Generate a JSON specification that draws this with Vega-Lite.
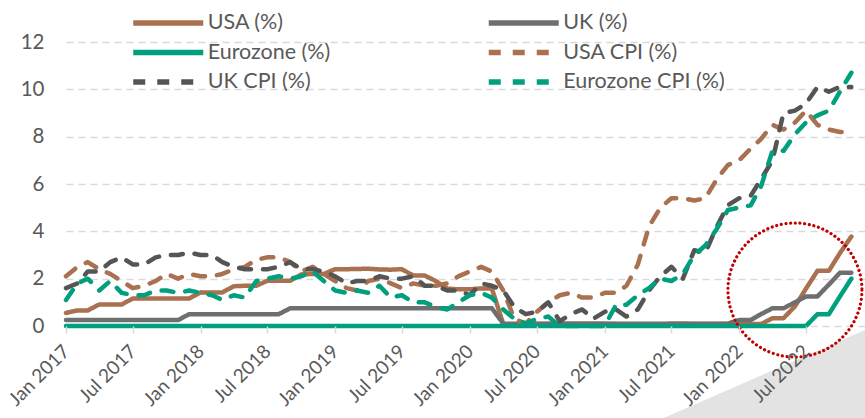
{
  "$schema": "https://vega.github.io/schema/vega-lite/v6.json",
  "width": 799,
  "height": 284,
  "autosize": {"type": "none"},
  "padding": {"left": 66, "top": 42, "right": 0, "bottom": 92},
  "background": "white",
  "config": {"view": {"stroke": null}, "font": "Lato"},
  "datasets": {
    "rates": [
      {"month":"2017-01","series":"USA (%)","value":0.55},{"month":"2017-02","series":"USA (%)","value":0.66},{"month":"2017-03","series":"USA (%)","value":0.66},{"month":"2017-04","series":"USA (%)","value":0.91},{"month":"2017-05","series":"USA (%)","value":0.91},{"month":"2017-06","series":"USA (%)","value":0.91},{"month":"2017-07","series":"USA (%)","value":1.16},{"month":"2017-08","series":"USA (%)","value":1.16},{"month":"2017-09","series":"USA (%)","value":1.16},{"month":"2017-10","series":"USA (%)","value":1.16},{"month":"2017-11","series":"USA (%)","value":1.16},{"month":"2017-12","series":"USA (%)","value":1.16},
      {"month":"2018-01","series":"USA (%)","value":1.42},{"month":"2018-02","series":"USA (%)","value":1.42},{"month":"2018-03","series":"USA (%)","value":1.42},{"month":"2018-04","series":"USA (%)","value":1.68},{"month":"2018-05","series":"USA (%)","value":1.70},{"month":"2018-06","series":"USA (%)","value":1.70},{"month":"2018-07","series":"USA (%)","value":1.91},{"month":"2018-08","series":"USA (%)","value":1.91},{"month":"2018-09","series":"USA (%)","value":1.91},{"month":"2018-10","series":"USA (%)","value":2.18},{"month":"2018-11","series":"USA (%)","value":2.20},{"month":"2018-12","series":"USA (%)","value":2.20},
      {"month":"2019-01","series":"USA (%)","value":2.40},{"month":"2019-02","series":"USA (%)","value":2.40},{"month":"2019-03","series":"USA (%)","value":2.41},{"month":"2019-04","series":"USA (%)","value":2.42},{"month":"2019-05","series":"USA (%)","value":2.39},{"month":"2019-06","series":"USA (%)","value":2.38},{"month":"2019-07","series":"USA (%)","value":2.40},{"month":"2019-08","series":"USA (%)","value":2.13},{"month":"2019-09","series":"USA (%)","value":2.13},{"month":"2019-10","series":"USA (%)","value":1.90},{"month":"2019-11","series":"USA (%)","value":1.58},{"month":"2019-12","series":"USA (%)","value":1.55},
      {"month":"2020-01","series":"USA (%)","value":1.55},{"month":"2020-02","series":"USA (%)","value":1.59},{"month":"2020-03","series":"USA (%)","value":1.58},{"month":"2020-04","series":"USA (%)","value":0.08},{"month":"2020-05","series":"USA (%)","value":0.05},{"month":"2020-06","series":"USA (%)","value":0.05},{"month":"2020-07","series":"USA (%)","value":0.08},{"month":"2020-08","series":"USA (%)","value":0.09},{"month":"2020-09","series":"USA (%)","value":0.10},{"month":"2020-10","series":"USA (%)","value":0.09},{"month":"2020-11","series":"USA (%)","value":0.09},{"month":"2020-12","series":"USA (%)","value":0.09},
      {"month":"2021-01","series":"USA (%)","value":0.09},{"month":"2021-02","series":"USA (%)","value":0.08},{"month":"2021-03","series":"USA (%)","value":0.07},{"month":"2021-04","series":"USA (%)","value":0.07},{"month":"2021-05","series":"USA (%)","value":0.06},{"month":"2021-06","series":"USA (%)","value":0.06},{"month":"2021-07","series":"USA (%)","value":0.10},{"month":"2021-08","series":"USA (%)","value":0.10},{"month":"2021-09","series":"USA (%)","value":0.08},{"month":"2021-10","series":"USA (%)","value":0.08},{"month":"2021-11","series":"USA (%)","value":0.08},{"month":"2021-12","series":"USA (%)","value":0.08},
      {"month":"2022-01","series":"USA (%)","value":0.08},{"month":"2022-02","series":"USA (%)","value":0.08},{"month":"2022-03","series":"USA (%)","value":0.08},{"month":"2022-04","series":"USA (%)","value":0.33},{"month":"2022-05","series":"USA (%)","value":0.33},{"month":"2022-06","series":"USA (%)","value":0.83},{"month":"2022-07","series":"USA (%)","value":1.58},{"month":"2022-08","series":"USA (%)","value":2.33},{"month":"2022-09","series":"USA (%)","value":2.33},{"month":"2022-10","series":"USA (%)","value":3.08},{"month":"2022-11","series":"USA (%)","value":3.78},

      {"month":"2017-01","series":"UK (%)","value":0.25},{"month":"2017-02","series":"UK (%)","value":0.25},{"month":"2017-03","series":"UK (%)","value":0.25},{"month":"2017-04","series":"UK (%)","value":0.25},{"month":"2017-05","series":"UK (%)","value":0.25},{"month":"2017-06","series":"UK (%)","value":0.25},{"month":"2017-07","series":"UK (%)","value":0.25},{"month":"2017-08","series":"UK (%)","value":0.25},{"month":"2017-09","series":"UK (%)","value":0.25},{"month":"2017-10","series":"UK (%)","value":0.25},{"month":"2017-11","series":"UK (%)","value":0.25},{"month":"2017-12","series":"UK (%)","value":0.5},
      {"month":"2018-01","series":"UK (%)","value":0.5},{"month":"2018-02","series":"UK (%)","value":0.5},{"month":"2018-03","series":"UK (%)","value":0.5},{"month":"2018-04","series":"UK (%)","value":0.5},{"month":"2018-05","series":"UK (%)","value":0.5},{"month":"2018-06","series":"UK (%)","value":0.5},{"month":"2018-07","series":"UK (%)","value":0.5},{"month":"2018-08","series":"UK (%)","value":0.5},{"month":"2018-09","series":"UK (%)","value":0.75},{"month":"2018-10","series":"UK (%)","value":0.75},{"month":"2018-11","series":"UK (%)","value":0.75},{"month":"2018-12","series":"UK (%)","value":0.75},
      {"month":"2019-01","series":"UK (%)","value":0.75},{"month":"2019-02","series":"UK (%)","value":0.75},{"month":"2019-03","series":"UK (%)","value":0.75},{"month":"2019-04","series":"UK (%)","value":0.75},{"month":"2019-05","series":"UK (%)","value":0.75},{"month":"2019-06","series":"UK (%)","value":0.75},{"month":"2019-07","series":"UK (%)","value":0.75},{"month":"2019-08","series":"UK (%)","value":0.75},{"month":"2019-09","series":"UK (%)","value":0.75},{"month":"2019-10","series":"UK (%)","value":0.75},{"month":"2019-11","series":"UK (%)","value":0.75},{"month":"2019-12","series":"UK (%)","value":0.75},
      {"month":"2020-01","series":"UK (%)","value":0.75},{"month":"2020-02","series":"UK (%)","value":0.75},{"month":"2020-03","series":"UK (%)","value":0.75},{"month":"2020-04","series":"UK (%)","value":0.1},{"month":"2020-05","series":"UK (%)","value":0.1},{"month":"2020-06","series":"UK (%)","value":0.1},{"month":"2020-07","series":"UK (%)","value":0.1},{"month":"2020-08","series":"UK (%)","value":0.1},{"month":"2020-09","series":"UK (%)","value":0.1},{"month":"2020-10","series":"UK (%)","value":0.1},{"month":"2020-11","series":"UK (%)","value":0.1},{"month":"2020-12","series":"UK (%)","value":0.1},
      {"month":"2021-01","series":"UK (%)","value":0.1},{"month":"2021-02","series":"UK (%)","value":0.1},{"month":"2021-03","series":"UK (%)","value":0.1},{"month":"2021-04","series":"UK (%)","value":0.1},{"month":"2021-05","series":"UK (%)","value":0.1},{"month":"2021-06","series":"UK (%)","value":0.1},{"month":"2021-07","series":"UK (%)","value":0.1},{"month":"2021-08","series":"UK (%)","value":0.1},{"month":"2021-09","series":"UK (%)","value":0.1},{"month":"2021-10","series":"UK (%)","value":0.1},{"month":"2021-11","series":"UK (%)","value":0.1},{"month":"2021-12","series":"UK (%)","value":0.1},
      {"month":"2022-01","series":"UK (%)","value":0.25},{"month":"2022-02","series":"UK (%)","value":0.25},{"month":"2022-03","series":"UK (%)","value":0.5},{"month":"2022-04","series":"UK (%)","value":0.75},{"month":"2022-05","series":"UK (%)","value":0.75},{"month":"2022-06","series":"UK (%)","value":1.0},{"month":"2022-07","series":"UK (%)","value":1.25},{"month":"2022-08","series":"UK (%)","value":1.25},{"month":"2022-09","series":"UK (%)","value":1.75},{"month":"2022-10","series":"UK (%)","value":2.25},{"month":"2022-11","series":"UK (%)","value":2.25},

      {"month":"2017-01","series":"Eurozone (%)","value":0},{"month":"2017-02","series":"Eurozone (%)","value":0},{"month":"2017-03","series":"Eurozone (%)","value":0},{"month":"2017-04","series":"Eurozone (%)","value":0},{"month":"2017-05","series":"Eurozone (%)","value":0},{"month":"2017-06","series":"Eurozone (%)","value":0},{"month":"2017-07","series":"Eurozone (%)","value":0},{"month":"2017-08","series":"Eurozone (%)","value":0},{"month":"2017-09","series":"Eurozone (%)","value":0},{"month":"2017-10","series":"Eurozone (%)","value":0},{"month":"2017-11","series":"Eurozone (%)","value":0},{"month":"2017-12","series":"Eurozone (%)","value":0},
      {"month":"2018-01","series":"Eurozone (%)","value":0},{"month":"2018-02","series":"Eurozone (%)","value":0},{"month":"2018-03","series":"Eurozone (%)","value":0},{"month":"2018-04","series":"Eurozone (%)","value":0},{"month":"2018-05","series":"Eurozone (%)","value":0},{"month":"2018-06","series":"Eurozone (%)","value":0},{"month":"2018-07","series":"Eurozone (%)","value":0},{"month":"2018-08","series":"Eurozone (%)","value":0},{"month":"2018-09","series":"Eurozone (%)","value":0},{"month":"2018-10","series":"Eurozone (%)","value":0},{"month":"2018-11","series":"Eurozone (%)","value":0},{"month":"2018-12","series":"Eurozone (%)","value":0},
      {"month":"2019-01","series":"Eurozone (%)","value":0},{"month":"2019-02","series":"Eurozone (%)","value":0},{"month":"2019-03","series":"Eurozone (%)","value":0},{"month":"2019-04","series":"Eurozone (%)","value":0},{"month":"2019-05","series":"Eurozone (%)","value":0},{"month":"2019-06","series":"Eurozone (%)","value":0},{"month":"2019-07","series":"Eurozone (%)","value":0},{"month":"2019-08","series":"Eurozone (%)","value":0},{"month":"2019-09","series":"Eurozone (%)","value":0},{"month":"2019-10","series":"Eurozone (%)","value":0},{"month":"2019-11","series":"Eurozone (%)","value":0},{"month":"2019-12","series":"Eurozone (%)","value":0},
      {"month":"2020-01","series":"Eurozone (%)","value":0},{"month":"2020-02","series":"Eurozone (%)","value":0},{"month":"2020-03","series":"Eurozone (%)","value":0},{"month":"2020-04","series":"Eurozone (%)","value":0},{"month":"2020-05","series":"Eurozone (%)","value":0},{"month":"2020-06","series":"Eurozone (%)","value":0},{"month":"2020-07","series":"Eurozone (%)","value":0},{"month":"2020-08","series":"Eurozone (%)","value":0},{"month":"2020-09","series":"Eurozone (%)","value":0},{"month":"2020-10","series":"Eurozone (%)","value":0},{"month":"2020-11","series":"Eurozone (%)","value":0},{"month":"2020-12","series":"Eurozone (%)","value":0},
      {"month":"2021-01","series":"Eurozone (%)","value":0},{"month":"2021-02","series":"Eurozone (%)","value":0},{"month":"2021-03","series":"Eurozone (%)","value":0},{"month":"2021-04","series":"Eurozone (%)","value":0},{"month":"2021-05","series":"Eurozone (%)","value":0},{"month":"2021-06","series":"Eurozone (%)","value":0},{"month":"2021-07","series":"Eurozone (%)","value":0},{"month":"2021-08","series":"Eurozone (%)","value":0},{"month":"2021-09","series":"Eurozone (%)","value":0},{"month":"2021-10","series":"Eurozone (%)","value":0},{"month":"2021-11","series":"Eurozone (%)","value":0},{"month":"2021-12","series":"Eurozone (%)","value":0},
      {"month":"2022-01","series":"Eurozone (%)","value":0},{"month":"2022-02","series":"Eurozone (%)","value":0},{"month":"2022-03","series":"Eurozone (%)","value":0},{"month":"2022-04","series":"Eurozone (%)","value":0},{"month":"2022-05","series":"Eurozone (%)","value":0},{"month":"2022-06","series":"Eurozone (%)","value":0},{"month":"2022-07","series":"Eurozone (%)","value":0},{"month":"2022-08","series":"Eurozone (%)","value":0.5},{"month":"2022-09","series":"Eurozone (%)","value":0.5},{"month":"2022-10","series":"Eurozone (%)","value":1.25},{"month":"2022-11","series":"Eurozone (%)","value":2.0},

      {"month":"2017-01","series":"USA CPI (%)","value":2.1},{"month":"2017-02","series":"USA CPI (%)","value":2.5},{"month":"2017-03","series":"USA CPI (%)","value":2.7},{"month":"2017-04","series":"USA CPI (%)","value":2.4},{"month":"2017-05","series":"USA CPI (%)","value":2.2},{"month":"2017-06","series":"USA CPI (%)","value":1.9},{"month":"2017-07","series":"USA CPI (%)","value":1.6},{"month":"2017-08","series":"USA CPI (%)","value":1.7},{"month":"2017-09","series":"USA CPI (%)","value":1.9},{"month":"2017-10","series":"USA CPI (%)","value":2.2},{"month":"2017-11","series":"USA CPI (%)","value":2.0},{"month":"2017-12","series":"USA CPI (%)","value":2.2},
      {"month":"2018-01","series":"USA CPI (%)","value":2.1},{"month":"2018-02","series":"USA CPI (%)","value":2.1},{"month":"2018-03","series":"USA CPI (%)","value":2.2},{"month":"2018-04","series":"USA CPI (%)","value":2.4},{"month":"2018-05","series":"USA CPI (%)","value":2.5},{"month":"2018-06","series":"USA CPI (%)","value":2.8},{"month":"2018-07","series":"USA CPI (%)","value":2.9},{"month":"2018-08","series":"USA CPI (%)","value":2.9},{"month":"2018-09","series":"USA CPI (%)","value":2.7},{"month":"2018-10","series":"USA CPI (%)","value":2.3},{"month":"2018-11","series":"USA CPI (%)","value":2.5},{"month":"2018-12","series":"USA CPI (%)","value":2.2},
      {"month":"2019-01","series":"USA CPI (%)","value":1.9},{"month":"2019-02","series":"USA CPI (%)","value":1.6},{"month":"2019-03","series":"USA CPI (%)","value":1.5},{"month":"2019-04","series":"USA CPI (%)","value":1.9},{"month":"2019-05","series":"USA CPI (%)","value":2.0},{"month":"2019-06","series":"USA CPI (%)","value":1.8},{"month":"2019-07","series":"USA CPI (%)","value":1.6},{"month":"2019-08","series":"USA CPI (%)","value":1.8},{"month":"2019-09","series":"USA CPI (%)","value":1.7},{"month":"2019-10","series":"USA CPI (%)","value":1.7},{"month":"2019-11","series":"USA CPI (%)","value":1.8},{"month":"2019-12","series":"USA CPI (%)","value":2.1},
      {"month":"2020-01","series":"USA CPI (%)","value":2.3},{"month":"2020-02","series":"USA CPI (%)","value":2.5},{"month":"2020-03","series":"USA CPI (%)","value":2.3},{"month":"2020-04","series":"USA CPI (%)","value":1.5},{"month":"2020-05","series":"USA CPI (%)","value":0.3},{"month":"2020-06","series":"USA CPI (%)","value":0.1},{"month":"2020-07","series":"USA CPI (%)","value":0.6},{"month":"2020-08","series":"USA CPI (%)","value":1.0},{"month":"2020-09","series":"USA CPI (%)","value":1.3},{"month":"2020-10","series":"USA CPI (%)","value":1.4},{"month":"2020-11","series":"USA CPI (%)","value":1.2},{"month":"2020-12","series":"USA CPI (%)","value":1.2},
      {"month":"2021-01","series":"USA CPI (%)","value":1.4},{"month":"2021-02","series":"USA CPI (%)","value":1.4},{"month":"2021-03","series":"USA CPI (%)","value":1.7},{"month":"2021-04","series":"USA CPI (%)","value":2.6},{"month":"2021-05","series":"USA CPI (%)","value":4.2},{"month":"2021-06","series":"USA CPI (%)","value":5.0},{"month":"2021-07","series":"USA CPI (%)","value":5.4},{"month":"2021-08","series":"USA CPI (%)","value":5.4},{"month":"2021-09","series":"USA CPI (%)","value":5.3},{"month":"2021-10","series":"USA CPI (%)","value":5.4},{"month":"2021-11","series":"USA CPI (%)","value":6.2},{"month":"2021-12","series":"USA CPI (%)","value":6.8},
      {"month":"2022-01","series":"USA CPI (%)","value":7.0},{"month":"2022-02","series":"USA CPI (%)","value":7.5},{"month":"2022-03","series":"USA CPI (%)","value":7.9},{"month":"2022-04","series":"USA CPI (%)","value":8.5},{"month":"2022-05","series":"USA CPI (%)","value":8.3},{"month":"2022-06","series":"USA CPI (%)","value":8.6},{"month":"2022-07","series":"USA CPI (%)","value":9.1},{"month":"2022-08","series":"USA CPI (%)","value":8.5},{"month":"2022-09","series":"USA CPI (%)","value":8.3},{"month":"2022-10","series":"USA CPI (%)","value":8.2},{"month":"2022-11","series":"USA CPI (%)","value":8.2},

      {"month":"2017-01","series":"UK CPI (%)","value":1.6},{"month":"2017-02","series":"UK CPI (%)","value":1.8},{"month":"2017-03","series":"UK CPI (%)","value":2.3},{"month":"2017-04","series":"UK CPI (%)","value":2.3},{"month":"2017-05","series":"UK CPI (%)","value":2.7},{"month":"2017-06","series":"UK CPI (%)","value":2.9},{"month":"2017-07","series":"UK CPI (%)","value":2.6},{"month":"2017-08","series":"UK CPI (%)","value":2.6},{"month":"2017-09","series":"UK CPI (%)","value":2.9},{"month":"2017-10","series":"UK CPI (%)","value":3.0},{"month":"2017-11","series":"UK CPI (%)","value":3.0},{"month":"2017-12","series":"UK CPI (%)","value":3.1},
      {"month":"2018-01","series":"UK CPI (%)","value":3.0},{"month":"2018-02","series":"UK CPI (%)","value":3.0},{"month":"2018-03","series":"UK CPI (%)","value":2.7},{"month":"2018-04","series":"UK CPI (%)","value":2.5},{"month":"2018-05","series":"UK CPI (%)","value":2.4},{"month":"2018-06","series":"UK CPI (%)","value":2.4},{"month":"2018-07","series":"UK CPI (%)","value":2.4},{"month":"2018-08","series":"UK CPI (%)","value":2.5},{"month":"2018-09","series":"UK CPI (%)","value":2.7},{"month":"2018-10","series":"UK CPI (%)","value":2.4},{"month":"2018-11","series":"UK CPI (%)","value":2.4},{"month":"2018-12","series":"UK CPI (%)","value":2.3},
      {"month":"2019-01","series":"UK CPI (%)","value":2.1},{"month":"2019-02","series":"UK CPI (%)","value":1.8},{"month":"2019-03","series":"UK CPI (%)","value":1.9},{"month":"2019-04","series":"UK CPI (%)","value":1.9},{"month":"2019-05","series":"UK CPI (%)","value":2.1},{"month":"2019-06","series":"UK CPI (%)","value":2.0},{"month":"2019-07","series":"UK CPI (%)","value":2.0},{"month":"2019-08","series":"UK CPI (%)","value":2.1},{"month":"2019-09","series":"UK CPI (%)","value":1.7},{"month":"2019-10","series":"UK CPI (%)","value":1.7},{"month":"2019-11","series":"UK CPI (%)","value":1.5},{"month":"2019-12","series":"UK CPI (%)","value":1.5},
      {"month":"2020-01","series":"UK CPI (%)","value":1.3},{"month":"2020-02","series":"UK CPI (%)","value":1.8},{"month":"2020-03","series":"UK CPI (%)","value":1.7},{"month":"2020-04","series":"UK CPI (%)","value":1.5},{"month":"2020-05","series":"UK CPI (%)","value":0.8},{"month":"2020-06","series":"UK CPI (%)","value":0.5},{"month":"2020-07","series":"UK CPI (%)","value":0.6},{"month":"2020-08","series":"UK CPI (%)","value":1.0},{"month":"2020-09","series":"UK CPI (%)","value":0.2},{"month":"2020-10","series":"UK CPI (%)","value":0.5},{"month":"2020-11","series":"UK CPI (%)","value":0.7},{"month":"2020-12","series":"UK CPI (%)","value":0.3},
      {"month":"2021-01","series":"UK CPI (%)","value":0.6},{"month":"2021-02","series":"UK CPI (%)","value":0.7},{"month":"2021-03","series":"UK CPI (%)","value":0.4},{"month":"2021-04","series":"UK CPI (%)","value":0.7},{"month":"2021-05","series":"UK CPI (%)","value":1.5},{"month":"2021-06","series":"UK CPI (%)","value":2.1},{"month":"2021-07","series":"UK CPI (%)","value":2.5},{"month":"2021-08","series":"UK CPI (%)","value":2.0},{"month":"2021-09","series":"UK CPI (%)","value":3.2},{"month":"2021-10","series":"UK CPI (%)","value":3.1},{"month":"2021-11","series":"UK CPI (%)","value":4.2},{"month":"2021-12","series":"UK CPI (%)","value":5.1},
      {"month":"2022-01","series":"UK CPI (%)","value":5.4},{"month":"2022-02","series":"UK CPI (%)","value":5.5},{"month":"2022-03","series":"UK CPI (%)","value":6.2},{"month":"2022-04","series":"UK CPI (%)","value":7.0},{"month":"2022-05","series":"UK CPI (%)","value":9.0},{"month":"2022-06","series":"UK CPI (%)","value":9.1},{"month":"2022-07","series":"UK CPI (%)","value":9.4},{"month":"2022-08","series":"UK CPI (%)","value":10.1},{"month":"2022-09","series":"UK CPI (%)","value":9.9},{"month":"2022-10","series":"UK CPI (%)","value":10.1},{"month":"2022-11","series":"UK CPI (%)","value":10.1},

      {"month":"2017-01","series":"Eurozone CPI (%)","value":1.1},{"month":"2017-02","series":"Eurozone CPI (%)","value":1.8},{"month":"2017-03","series":"Eurozone CPI (%)","value":2.0},{"month":"2017-04","series":"Eurozone CPI (%)","value":1.5},{"month":"2017-05","series":"Eurozone CPI (%)","value":1.9},{"month":"2017-06","series":"Eurozone CPI (%)","value":1.4},{"month":"2017-07","series":"Eurozone CPI (%)","value":1.3},{"month":"2017-08","series":"Eurozone CPI (%)","value":1.3},{"month":"2017-09","series":"Eurozone CPI (%)","value":1.5},{"month":"2017-10","series":"Eurozone CPI (%)","value":1.5},{"month":"2017-11","series":"Eurozone CPI (%)","value":1.4},{"month":"2017-12","series":"Eurozone CPI (%)","value":1.5},
      {"month":"2018-01","series":"Eurozone CPI (%)","value":1.4},{"month":"2018-02","series":"Eurozone CPI (%)","value":1.3},{"month":"2018-03","series":"Eurozone CPI (%)","value":1.1},{"month":"2018-04","series":"Eurozone CPI (%)","value":1.3},{"month":"2018-05","series":"Eurozone CPI (%)","value":1.2},{"month":"2018-06","series":"Eurozone CPI (%)","value":1.9},{"month":"2018-07","series":"Eurozone CPI (%)","value":2.0},{"month":"2018-08","series":"Eurozone CPI (%)","value":2.1},{"month":"2018-09","series":"Eurozone CPI (%)","value":2.0},{"month":"2018-10","series":"Eurozone CPI (%)","value":2.1},{"month":"2018-11","series":"Eurozone CPI (%)","value":2.3},{"month":"2018-12","series":"Eurozone CPI (%)","value":1.9},
      {"month":"2019-01","series":"Eurozone CPI (%)","value":1.5},{"month":"2019-02","series":"Eurozone CPI (%)","value":1.4},{"month":"2019-03","series":"Eurozone CPI (%)","value":1.5},{"month":"2019-04","series":"Eurozone CPI (%)","value":1.4},{"month":"2019-05","series":"Eurozone CPI (%)","value":1.7},{"month":"2019-06","series":"Eurozone CPI (%)","value":1.2},{"month":"2019-07","series":"Eurozone CPI (%)","value":1.3},{"month":"2019-08","series":"Eurozone CPI (%)","value":1.0},{"month":"2019-09","series":"Eurozone CPI (%)","value":1.0},{"month":"2019-10","series":"Eurozone CPI (%)","value":0.8},{"month":"2019-11","series":"Eurozone CPI (%)","value":0.7},{"month":"2019-12","series":"Eurozone CPI (%)","value":1.0},
      {"month":"2020-01","series":"Eurozone CPI (%)","value":1.3},{"month":"2020-02","series":"Eurozone CPI (%)","value":1.4},{"month":"2020-03","series":"Eurozone CPI (%)","value":1.2},{"month":"2020-04","series":"Eurozone CPI (%)","value":0.7},{"month":"2020-05","series":"Eurozone CPI (%)","value":0.3},{"month":"2020-06","series":"Eurozone CPI (%)","value":0.1},{"month":"2020-07","series":"Eurozone CPI (%)","value":0.3},{"month":"2020-08","series":"Eurozone CPI (%)","value":0.4},{"month":"2020-09","series":"Eurozone CPI (%)","value":0},{"month":"2020-10","series":"Eurozone CPI (%)","value":0},{"month":"2020-11","series":"Eurozone CPI (%)","value":0},{"month":"2020-12","series":"Eurozone CPI (%)","value":0},
      {"month":"2021-01","series":"Eurozone CPI (%)","value":0},{"month":"2021-02","series":"Eurozone CPI (%)","value":0.9},{"month":"2021-03","series":"Eurozone CPI (%)","value":0.9},{"month":"2021-04","series":"Eurozone CPI (%)","value":1.3},{"month":"2021-05","series":"Eurozone CPI (%)","value":1.6},{"month":"2021-06","series":"Eurozone CPI (%)","value":2.0},{"month":"2021-07","series":"Eurozone CPI (%)","value":1.9},{"month":"2021-08","series":"Eurozone CPI (%)","value":2.2},{"month":"2021-09","series":"Eurozone CPI (%)","value":3.0},{"month":"2021-10","series":"Eurozone CPI (%)","value":3.4},{"month":"2021-11","series":"Eurozone CPI (%)","value":4.1},{"month":"2021-12","series":"Eurozone CPI (%)","value":4.9},
      {"month":"2022-01","series":"Eurozone CPI (%)","value":5.0},{"month":"2022-02","series":"Eurozone CPI (%)","value":5.1},{"month":"2022-03","series":"Eurozone CPI (%)","value":5.9},{"month":"2022-04","series":"Eurozone CPI (%)","value":7.4},{"month":"2022-05","series":"Eurozone CPI (%)","value":7.4},{"month":"2022-06","series":"Eurozone CPI (%)","value":8.1},{"month":"2022-07","series":"Eurozone CPI (%)","value":8.6},{"month":"2022-08","series":"Eurozone CPI (%)","value":8.9},{"month":"2022-09","series":"Eurozone CPI (%)","value":9.1},{"month":"2022-10","series":"Eurozone CPI (%)","value":9.9},{"month":"2022-11","series":"Eurozone CPI (%)","value":10.7}
    ],
    "corner": [
      {"month": "2021-06-08", "value": -3.9, "base": -3.9},
      {"month": "2022-12-08", "value": -0.17, "base": -3.9}
    ],
    "highlight": [
      {"month": "2022-06-01", "value": 1.52}
    ]
  },
  "layer": [
    {
      "data": {"name": "corner"},
      "mark": {"type": "area", "color": "#E3E3E3", "opacity": 1},
      "encoding": {
        "x": {"field": "month", "type": "temporal"},
        "y": {"field": "value", "type": "quantitative"},
        "y2": {"field": "base"}
      }
    },
    {
      "data": {"name": "rates"},
      "mark": {"type": "line", "strokeWidth": 4.5, "strokeCap": "round", "strokeJoin": "round"},
      "encoding": {
        "x": {
          "field": "month", "type": "temporal",
          "scale": {"type": "utc", "domain": [{"year": 2017, "month": 1, "date": 1, "utc": true}, {"year": 2022, "month": 12, "date": 8, "utc": true}]},
          "axis": {
            "title": null, "format": "%b %Y", "tickCount": {"interval": "month", "step": 6},
            "labelAngle": -45, "labelAlign": "right", "labelBaseline": "middle",
            "labelFontSize": 19, "labelFont": "Lato", "labelColor": "#595959",
            "labelOverlap": false, "labelFlush": false, "labelPadding": 15,
            "domain": false, "grid": false, "ticks": true, "tickColor": "#D9D9D9", "tickWidth": 1.5, "tickSize": 7,
            "zindex": 1
          }
        },
        "y": {
          "field": "value", "type": "quantitative",
          "scale": {"domain": [0, 12], "nice": false, "zero": true},
          "axis": {
            "title": null, "values": [0, 2, 4, 6, 8, 10, 12],
            "labelFontSize": 20.5, "labelFont": "Lato", "labelColor": "#595959", "labelPadding": 22,
            "domain": false, "ticks": false, "grid": true, "gridColor": "#D9D9D9", "gridDash": [7, 5], "gridWidth": 1.5
          }
        },
        "color": {
          "field": "series", "type": "nominal",
          "scale": {
            "domain": ["USA (%)", "UK (%)", "Eurozone (%)", "USA CPI (%)", "UK CPI (%)", "Eurozone CPI (%)"],
            "range": ["#A9714F", "#6F6F6F", "#00A07F", "#A9714F", "#555555", "#00A07F"]
          },
          "legend": {
            "title": null, "orient": "none", "legendX": 67, "legendY": -36, "columns": 2, "direction": "horizontal",
            "symbolType": "M-2.5,0H2.5", "symbolSize": 784, "symbolStrokeWidth": 5.5, "symbolOffset": 18.25,
            "labelFontSize": 21.5, "labelFont": "Lato", "labelColor": "#595959", "labelOffset": 22.5, "labelLimit": 400,
            "columnPadding": 146.5, "rowPadding": 1.5, "padding": 0
          }
        },
        "strokeDash": {
          "field": "series", "type": "nominal",
          "scale": {
            "domain": ["USA (%)", "UK (%)", "Eurozone (%)", "USA CPI (%)", "UK CPI (%)", "Eurozone CPI (%)"],
            "range": [[1, 0], [1, 0], [1, 0], [12, 12], [12, 12], [12, 12]]
          },
          "legend": {
            "title": null, "orient": "none", "legendX": 67, "legendY": -36, "columns": 2, "direction": "horizontal",
            "symbolType": "M-2.5,0H2.5", "symbolSize": 784, "symbolStrokeWidth": 5.5, "symbolOffset": 18.25,
            "labelFontSize": 21.5, "labelFont": "Lato", "labelColor": "#595959", "labelOffset": 22.5, "labelLimit": 400,
            "columnPadding": 146.5, "rowPadding": 1.5, "padding": 0
          }
        }
      }
    },
    {
      "data": {"name": "highlight"},
      "mark": {"type": "point", "shape": "circle", "size": 17956, "filled": false, "color": "#C00000", "strokeWidth": 3.2, "strokeDash": [0.01, 4.7], "strokeCap": "round", "opacity": 1},
      "encoding": {
        "x": {"field": "month", "type": "temporal"},
        "y": {"field": "value", "type": "quantitative"}
      }
    }
  ]
}
